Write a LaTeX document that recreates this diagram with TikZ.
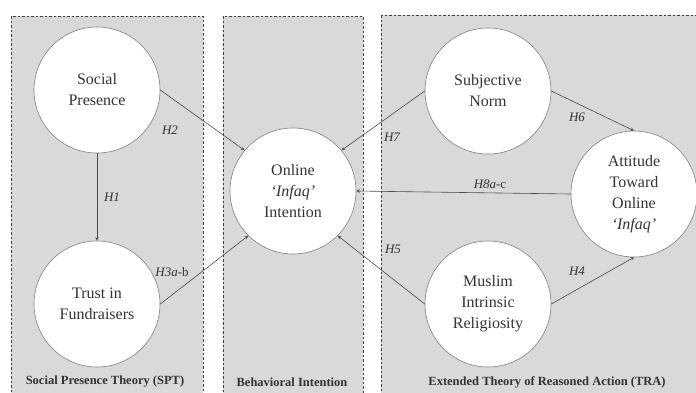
\documentclass[tikz,border=0pt]{standalone}
\usepackage{fontspec}
\setmainfont{Liberation Serif}
\usepackage{tikz}
\usetikzlibrary{arrows}

\definecolor{panelgray}{HTML}{D9D9D9}
\definecolor{linegray}{HTML}{4A4A4A}

\begin{document}
\begin{tikzpicture}[x=1pt,y=-1pt,
  panel/.style={fill=panelgray,draw=black!75,dash pattern=on 2.5pt off 2pt,line width=0.9pt},
  construct/.style={circle,draw=gray,fill=white,line width=0.6pt,minimum size=126pt,inner sep=0pt,
    align=center,font=\fontsize{16}{21}\selectfont,text=black!80},
  hyp/.style={font=\fontsize{13}{13}\selectfont\itshape,text=black!80},
  theory/.style={font=\fontsize{12.5}{13}\selectfont\bfseries,text=black!80},
  >=stealth, every edge/.style={draw=linegray,line width=0.6pt}]
 \useasboundingbox (0,0) rectangle (696,392);
 \clip (0,0) rectangle (696,392);
 % panels
 \path[panel] (11,16) rectangle (203,400);
 \path[panel] (223,16) rectangle (363,400);
 \path[panel] (381,15) rectangle (710,400);
 % constructs
 \node[construct] (sp)  at (97,90)   {Social\\Presence};
 \node[construct] (tf)  at (97,304)  {Trust in\\Fundraisers};
 \node[construct] (oii) at (293,191) {Online\\\textit{`Infaq'}\\Intention};
 \node[construct] (sn)  at (488,91)  {Subjective\\Norm};
 \node[construct] (ato) at (634,194) {Attitude\\Toward\\Online\\\textit{`Infaq'}};
 \node[construct] (mir) at (488,304) {Muslim\\Intrinsic\\Religiosity};
 % theories
 \node[theory] (spt) at (105,382) {Social Presence Theory (SPT)};
 \node[theory] (bi)  at (292,382) {Behavioral Intention};
 \node[theory] (tra) at (547,382) {Extended Theory of Reasoned Action (TRA)};
 % hypotheses
 \path[->]
  (sp) edge (tf)
  (sp.east) edge (oii.140)
  (tf.east) edge (oii.225)
  (sn.west) edge (oii.40)
  (mir.west) edge (oii.-45)
  (ato.west) edge (oii.east)
  (sn.east) edge (ato.north)
  (mir.east) edge (ato.south)
  ;
 \node[hyp] (h1)  at (112,197) {H1};
 \node[hyp] (h2)  at (170,130) {H2};
 \node[hyp] (h3)  at (172,272) {H3a\textup{-b}};
 \node[hyp] (h4)  at (577,271) {H4};
 \node[hyp] (h5)  at (393,249) {H5};
 \node[hyp] (h6)  at (577,117) {H6};
 \node[hyp] (h7)  at (392,137) {H7};
 \node[hyp] (h8)  at (490,184) {H8a\textup{-c}};
\end{tikzpicture}
\end{document}
